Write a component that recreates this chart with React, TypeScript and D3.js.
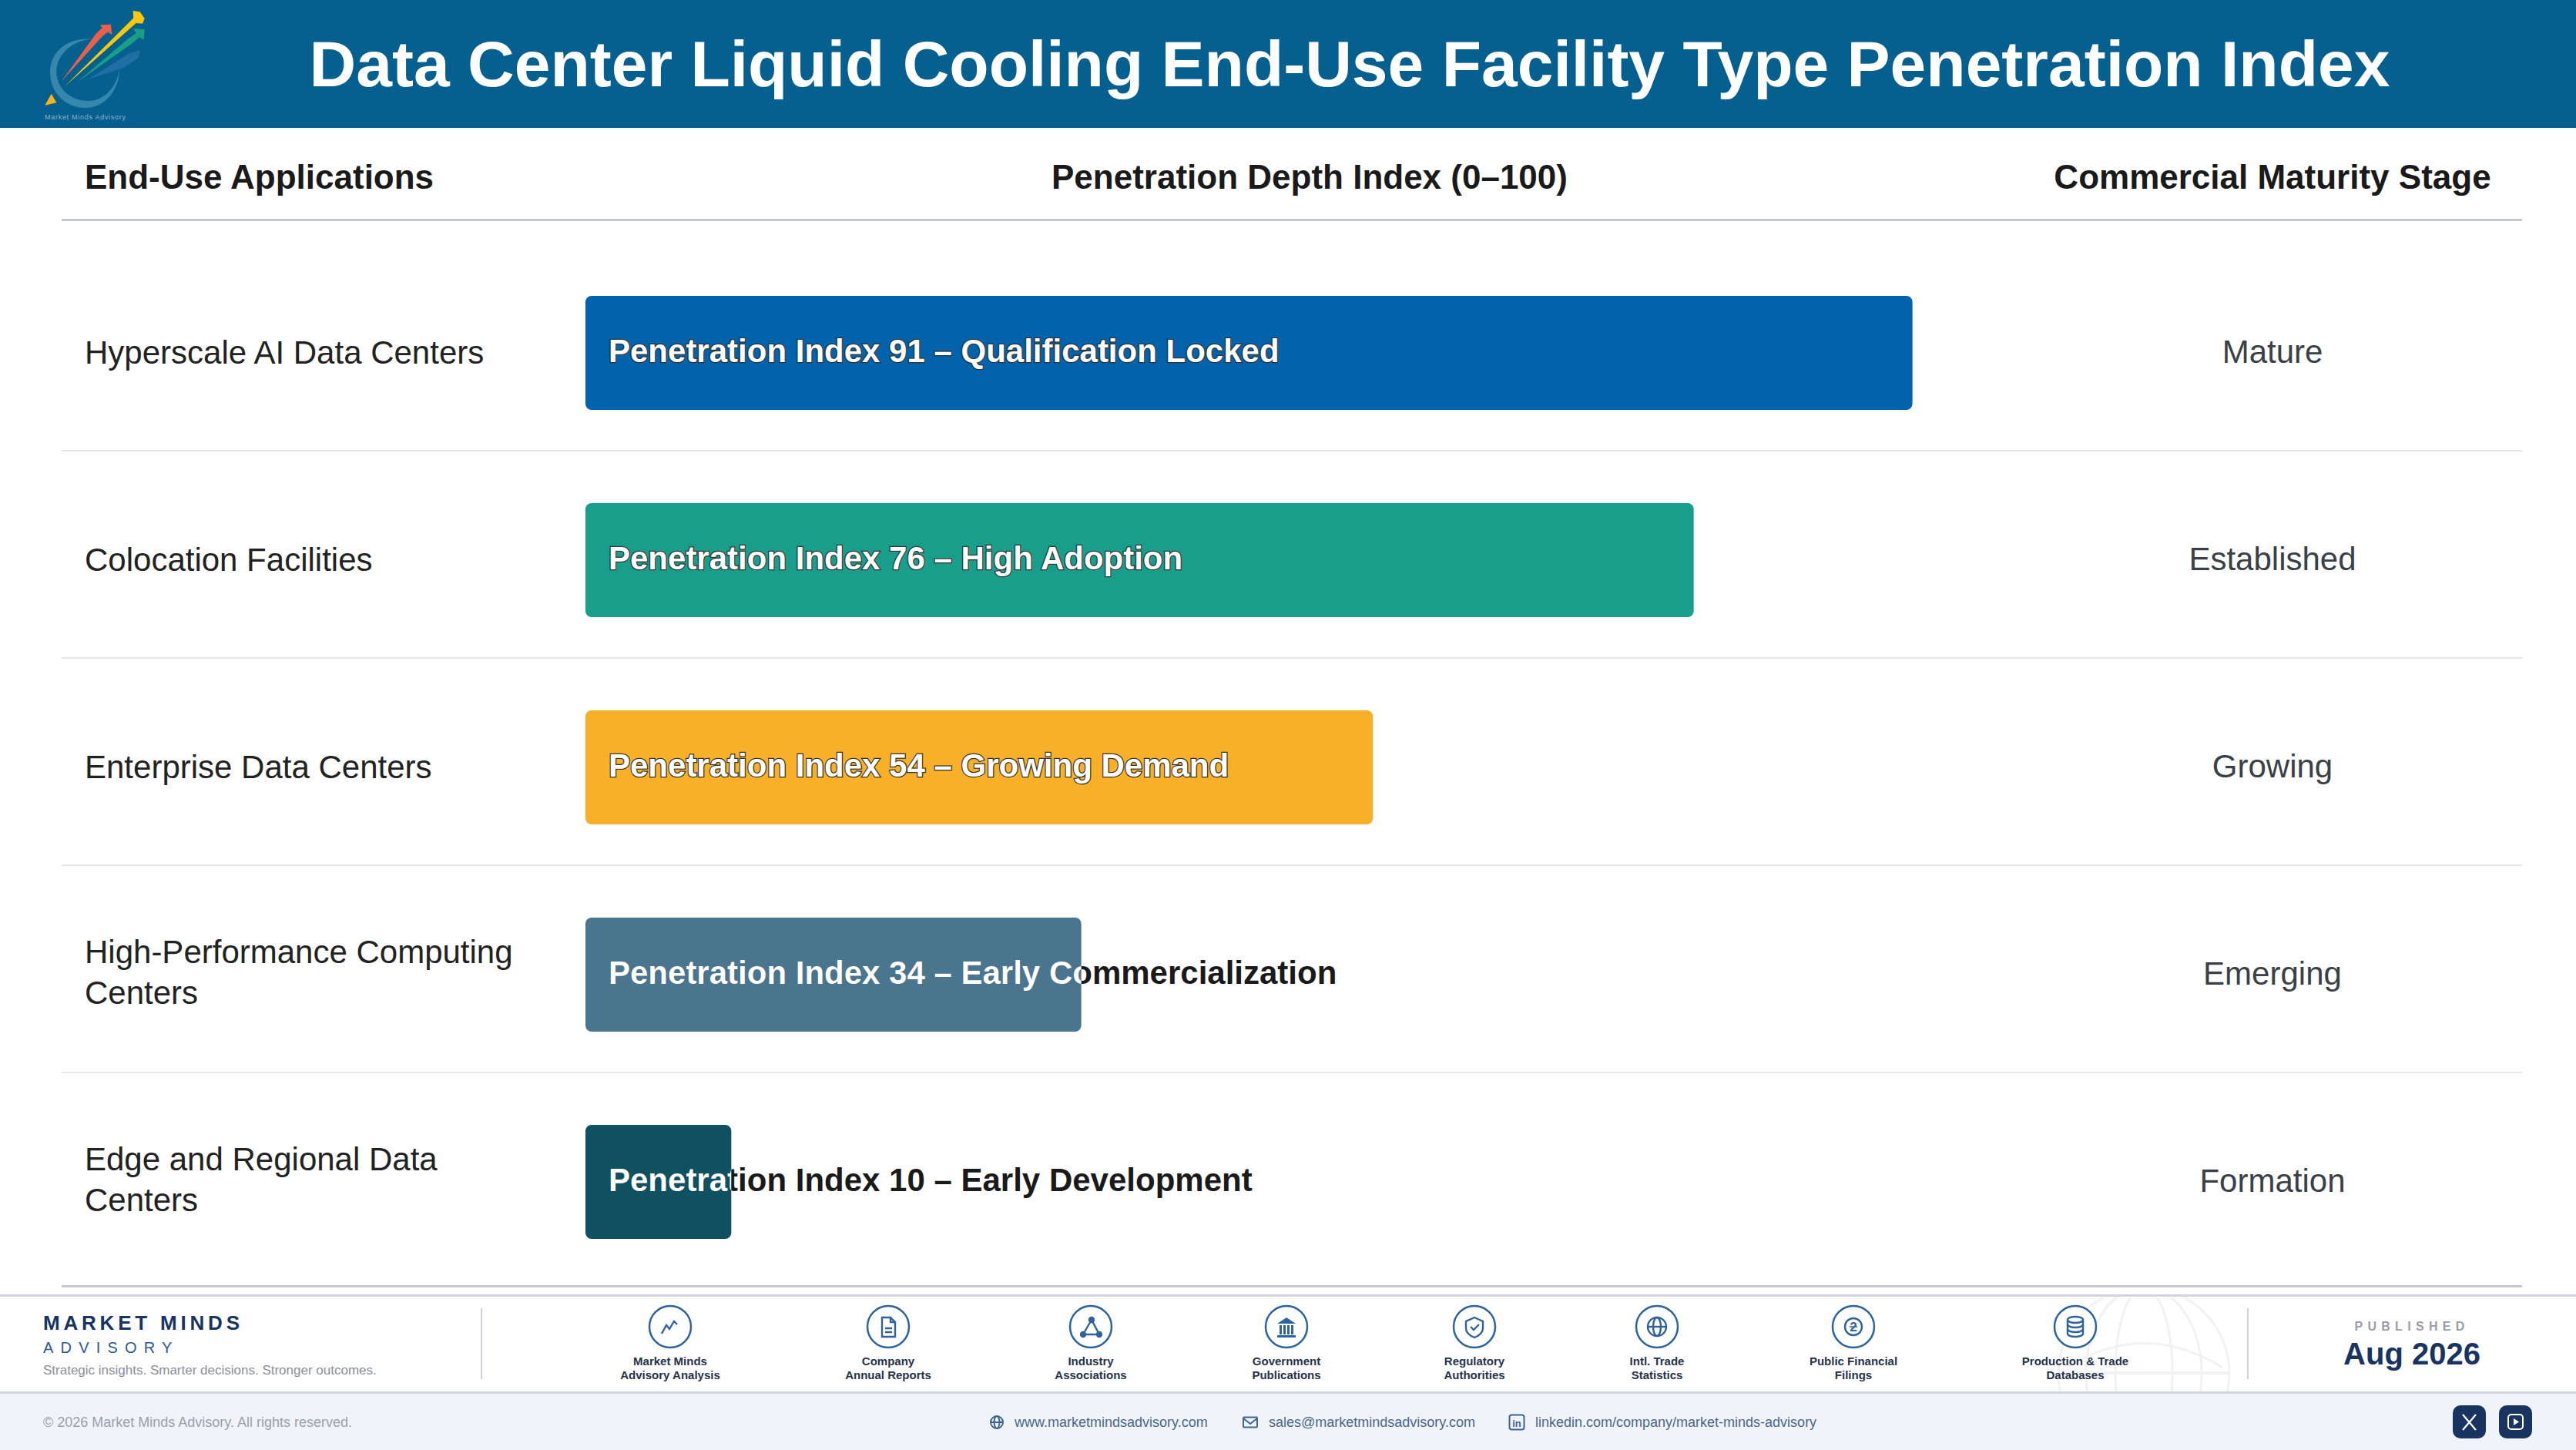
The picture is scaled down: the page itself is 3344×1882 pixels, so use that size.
import * as d3 from "d3";

// chart data
const categories = [
  ["Hyperscale AI Data Centers"],
  ["Colocation Facilities"],
  ["Enterprise Data Centers"],
  ["High-Performance Computing", "Centers"],
  ["Edge and Regional Data", "Centers"],
];
const indexValues = [91, 76, 54, 34, 10];
const adoptionLabels = [
  "Qualification Locked",
  "High Adoption",
  "Growing Demand",
  "Early Commercialization",
  "Early Development",
];
const stages = ["Mature", "Established", "Growing", "Emerging", "Formation"];
const barColors = ["#0063AB", "#1A9E8C", "#F7B028", "#4A758F", "#0F5161"];

const sources = [
  ["Market Minds", "Advisory Analysis"],
  ["Company", "Annual Reports"],
  ["Industry", "Associations"],
  ["Government", "Publications"],
  ["Regulatory", "Authorities"],
  ["Intl. Trade", "Statistics"],
  ["Public Financial", "Filings"],
  ["Production & Trade", "Databases"],
];
const sourceCenters = [870, 1153, 1416, 1670, 1914, 2151, 2406, 2694];

const FONT = "'Liberation Sans', Arial, sans-serif";
const NAVY = "#1A3461";
const ICON = "#2F639C";

const xScale = d3.scaleLinear().domain([0, 100]).range([760, 2653]);
const yScale = d3.scaleBand<number>().domain(d3.range(5)).range([316, 1661]);
const BAR_H = 148;

const bandTop = (i: number) => yScale(i) as number;

function SourceIcon({ i }: { i: number }) {
  const s = { fill: "none", stroke: ICON, strokeWidth: 2.4 };
  if (i === 0) return <path {...s} d="M-11,9 L-5,-2 L-1,3 L5,-7 L9,-3" />;
  if (i === 1)
    return (
      <g {...s}>
        <path d="M-8,-12 H3 L9,-6 V13 H-8 Z M3,-12 V-6 H9" />
        <path d="M-4,2 H5 M-4,7 H5" />
      </g>
    );
  if (i === 2)
    return (
      <g {...s}>
        <path d="M1,-9 L-10,10 H11 Z" />
        <circle cx={1} cy={-9} r={3} fill={ICON} />
        <circle cx={-10} cy={10} r={3} fill={ICON} />
        <circle cx={11} cy={10} r={3} fill={ICON} />
      </g>
    );
  if (i === 3)
    return (
      <g fill={ICON}>
        <path d="M0,-12 L12,-4 H-12 Z" />
        <rect x={-9} y={-2} width={3} height={12} />
        <rect x={-4} y={-2} width={3} height={12} />
        <rect x={1} y={-2} width={3} height={12} />
        <rect x={6} y={-2} width={3} height={12} />
        <rect x={-12} y={11} width={24} height={3} />
      </g>
    );
  if (i === 4)
    return (
      <g {...s}>
        <path d="M0,-12 L11,-7 V2 C11,8 5,12 0,14 C-5,12 -11,8 -11,2 V-7 Z" />
        <path d="M-5,0 L-1,4 L6,-3" />
      </g>
    );
  if (i === 5)
    return (
      <g {...s}>
        <circle r={12} />
        <ellipse rx={5} ry={12} />
        <path d="M-12,0 H12" />
      </g>
    );
  if (i === 6)
    return (
      <g {...s}>
        <circle r={11} />
        <text y={6} textAnchor="middle" fontFamily={FONT} fontSize={17} fontWeight={700} fill={ICON} stroke="none">2</text>
        <path d="M-5,0 H5" strokeWidth={1.5} />
      </g>
    );
  return (
    <g {...s}>
      <ellipse cy={-9} rx={10} ry={4} />
      <path d="M-10,-9 V9 A10,4 0 0 0 10,9 V-9" />
      <path d="M-10,-3 A10,4 0 0 0 10,-3 M-10,3 A10,4 0 0 0 10,3" />
    </g>
  );
}

function Logo() {
  return (
    <g>
      <g transform="scale(0.3333)">
        <path
          d="M355,152 C260,145 193,205 195,285 C197,365 260,422 335,420 C410,418 465,350 465,270 C455,340 405,395 340,393 C270,392 220,340 220,280 C220,215 275,160 355,152 Z"
          fill="#3587AC"
        />
        <path d="M340,310 L500,210 L545,195 L540,225 L480,265 Z" fill="#1F6FA5" />
        <path d="M300,320 L500,150 L530,130 L520,110 L563,115 L560,155 L543,145 L520,165 Z" fill="#17A085" />
        <path d="M238,318 L375,130 L398,108 L390,97 L432,95 L436,135 L420,125 L400,140 Z" fill="#E8604A" />
        <path d="M250,338 L490,100 L520,70 L518,42 L545,46 L563,72 L555,92 L530,90 Z" fill="#F9C80E" />
        <path d="M200,365 L175,410 L220,400 Z" fill="#F9B21A" />
      </g>
      <text x={58} y={155} fontFamily={FONT} fontSize={9} fill="#8FB3C7" textLength={105}>Market Minds Advisory</text>
    </g>
  );
}

export default function App() {
  return (
    <svg
      width={3344}
      height={1882}
      viewBox="0 0 3344 1882"
      fontFamily={FONT}
      style={{ position: "absolute", left: 0, top: 0, display: "block", background: "#fff" }}
    >
      <defs>
        {indexValues.map((v, i) => (
          <clipPath id={`bar-clip-${i}`} key={i}>
            <rect x={xScale(0)} y={bandTop(i) + 68} width={xScale(v) - xScale(0)} height={BAR_H} rx={8} />
          </clipPath>
        ))}
        <clipPath id="globe-clip">
          <rect x={2600} y={1684} width={400} height={122} />
        </clipPath>
      </defs>

      {/* header */}
      <rect width={3344} height={166} fill="#05608F" />
      <Logo />
      <text x={1752} y={112} textAnchor="middle" fill="#fff" fontSize={84} fontWeight={700}>
        Data Center Liquid Cooling End-Use Facility Type Penetration Index
      </text>

      {/* column heads */}
      <g fontSize={44} fontWeight={700} fill="#1A1A1A">
        <text x={110} y={245}>End-Use Applications</text>
        <text x={1700} y={245} textAnchor="middle">Penetration Depth Index (0–100)</text>
        <text x={2950} y={245} textAnchor="middle">Commercial Maturity Stage</text>
      </g>
      <rect x={80} y={284} width={3194} height={3} fill="#C6C6D0" />

      {/* rows */}
      {categories.map((lines, i) => {
        const top = bandTop(i);
        const mid = top + 68 + BAR_H / 2;
        const label = `Penetration Index ${indexValues[i]} – ${adoptionLabels[i]}`;
        const tx = xScale(0) + 30;
        const ty = top + 68 + 86;
        return (
          <g key={i}>
            {i < 4 && <rect x={80} y={top + 268} width={3194} height={2} fill="#E8E8EC" />}
            {lines.map((t, j) => (
              <text
                key={j}
                x={110}
                y={mid + 14 - ((lines.length - 1) * 53) / 2 + j * 53 - (lines.length - 1) * 3}
                fontSize={42}
                fill="#222"
              >
                {t}
              </text>
            ))}
            <rect
              x={xScale(0)}
              y={top + 68}
              width={xScale(indexValues[i]) - xScale(0)}
              height={BAR_H}
              rx={8}
              fill={barColors[i]}
            />
            <text x={tx} y={ty} fontSize={42} fontWeight={700} fill="#1A1A1A">{label}</text>
            <g clipPath={`url(#bar-clip-${i})`}>
              <text
                x={tx}
                y={ty}
                fontSize={42}
                fontWeight={700}
                fill="#fff"
                stroke={i < 3 ? "#333" : "none"}
                strokeWidth={i < 3 ? 2.5 : 0}
                paintOrder="stroke"
              >
                {label}
              </text>
            </g>
            <text x={2950} y={mid + 13} textAnchor="middle" fontSize={42} fill="#3B3F46">{stages[i]}</text>
          </g>
        );
      })}
      <rect x={80} y={1668} width={3194} height={3} fill="#C6C6CC" />

      {/* source strip */}
      <rect x={0} y={1680} width={3344} height={3} fill="#D2D4E2" />
      <g clipPath="url(#globe-clip)" fill="none" stroke="#F2F2F4" strokeWidth={3}>
        <circle cx={2783} cy={1782} r={111} />
        <ellipse cx={2783} cy={1782} rx={37} ry={111} />
        <ellipse cx={2783} cy={1782} rx={75} ry={111} />
        <path d="M2673,1782 H2895" strokeWidth={4} />
        <path d="M2683,1775 Q2783,1712 2885,1775" />
      </g>

      <text x={56} y={1726} fontSize={26} fontWeight={700} fill={NAVY} letterSpacing={4.8}>MARKET MINDS</text>
      <text x={56} y={1756} fontSize={20} fill="#2F5A90" letterSpacing={9.2}>ADVISORY</text>
      <text x={56} y={1784} fontSize={17} fill="#8A8F9A">Strategic insights. Smarter decisions. Stronger outcomes.</text>
      <rect x={624} y={1698} width={2} height={92} fill="#CFD2DC" />
      <rect x={2917} y={1698} width={2} height={92} fill="#CFD2DC" />

      {sources.map((lines, i) => (
        <g key={i} transform={`translate(${sourceCenters[i]},0)`}>
          <g transform="translate(0,1722)">
            <circle r={27} fill="#fff" stroke={ICON} strokeWidth={2.5} />
            <SourceIcon i={i} />
          </g>
          <text y={1772} textAnchor="middle" fontSize={15} fontWeight={700} fill="#263248">{lines[0]}</text>
          <text y={1790} textAnchor="middle" fontSize={15} fontWeight={700} fill="#263248">{lines[1]}</text>
        </g>
      ))}

      <text x={3131} y={1727} textAnchor="middle" fontSize={16} fontWeight={700} fill="#9A9EA8" letterSpacing={6.3}>PUBLISHED</text>
      <text x={3131} y={1771} textAnchor="middle" fontSize={40} fontWeight={700} fill={NAVY}>Aug 2026</text>

      {/* bottom bar */}
      <rect x={0} y={1808} width={3344} height={74} fill="#F0F4F8" />
      <rect x={0} y={1806} width={3344} height={3} fill="#D2D4E2" />
      <text x={56} y={1852} fontSize={18} fill="#9AA0AC">© 2026 Market Minds Advisory. All rights reserved.</text>

      <g fontSize={18} fill="#4A6688">
        <text x={1317} y={1852}>www.marketmindsadvisory.com</text>
        <text x={1647} y={1852}>sales@marketmindsadvisory.com</text>
        <text x={1993} y={1852}>linkedin.com/company/market-minds-advisory</text>
      </g>
      <g fill="none" stroke="#3F6390" strokeWidth={2}>
        <g transform="translate(1294,1846)">
          <circle r={8} />
          <ellipse rx={3.5} ry={8} />
          <path d="M-8,0 H8" />
        </g>
        <g transform="translate(1623,1846)">
          <rect x={-9} y={-6.5} width={18} height={13} rx={1} />
          <path d="M-9,-5 L0,2 L9,-5" />
        </g>
        <g transform="translate(1969,1846)">
          <rect x={-9.5} y={-9.5} width={19} height={19} rx={3} />
          <text y={6} textAnchor="middle" fontSize={13} fontWeight={700} fill="#3F6390" stroke="none">in</text>
        </g>
      </g>

      <rect x={3184} y={1824} width={43} height={43} rx={10} fill={NAVY} />
      <path d="M3197,1836 L3214,1856 M3214,1836 L3197,1856" stroke="#fff" strokeWidth={2.2} />
      <rect x={3244} y={1824} width={43} height={43} rx={10} fill={NAVY} />
      <rect x={3256} y={1836} width={19} height={19} rx={4} fill="none" stroke="#fff" strokeWidth={2} />
      <path d="M3263,1841 L3270,1845.5 L3263,1850 Z" fill="#fff" />
    </svg>
  );
}
